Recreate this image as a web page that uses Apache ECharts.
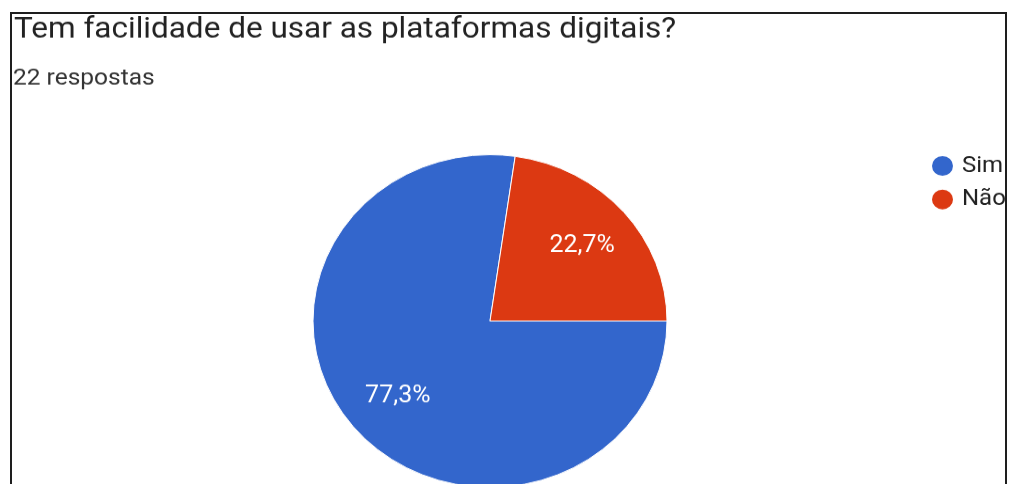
<!DOCTYPE html>
<html>
<head>
<meta charset="utf-8">
<script src="https://cdn.jsdelivr.net/npm/echarts@6/dist/echarts.min.js"></script>
<style>
  html, body { margin: 0; padding: 0; background: #fff; width: 1011px; height: 484px; overflow: hidden; position: relative; }
  #wrap { position: absolute; left: 0; top: 0; width: 1005px; height: 515px; transform: scaleY(0.94); transform-origin: 0 0; overflow: hidden; }
  #chart { width: 1005px; height: 515px; }
  #frame { position: absolute; left: 10px; top: 12px; width: 997px; height: 500px; border: 2px solid #1e1e1e; border-bottom: none; box-sizing: border-box; pointer-events: none; }
</style>
</head>
<body>
<div id="wrap"><div id="chart"></div></div>
<div id="frame"></div>
<script>
// Survey question and answer counts
const question = 'Tem facilidade de usar as plataformas digitais?';
const responsesLabel = '22 respostas';
const categories = ['Sim', 'Não'];
const counts = [17, 5];
const colors = ['#3366cc', '#dc3912'];

const total = counts.reduce((a, b) => a + b, 0);
const sliceData = categories.map((name, i) => ({ name: name, value: counts[i], itemStyle: { color: colors[i] } }));
const labelData = categories.map((name, i) => ({ name: name, value: counts[i] }));
const fmtPct = p => (p.value / total * 100).toFixed(1).replace('.', ',') + '%';

const chart = echarts.init(document.getElementById('chart'), null, { renderer: 'canvas' });
chart.setOption({
  animation: false,
  backgroundColor: '#fff',
  title: [
    { text: question, left: 14, top: 16.2, padding: 0, textStyle: { fontFamily: 'Roboto', fontSize: 31.5, fontWeight: 'normal', color: '#222', lineHeight: 31.5 } },
    { text: responsesLabel, left: 13, top: 71.5, padding: 0, textStyle: { fontFamily: 'Roboto', fontSize: 24.5, fontWeight: 'normal', color: '#333', lineHeight: 24.5 } }
  ],
  legend: {
    orient: 'vertical',
    left: 930,
    top: 164,
    padding: 0,
    icon: 'circle',
    itemWidth: 23,
    itemHeight: 23,
    itemGap: 10.7,
    data: categories,
    textStyle: { fontFamily: 'Roboto', fontSize: 24, lineHeight: 23, color: '#222', padding: [0, 0, 0, 3] }
  },
  series: [
    {
      type: 'pie',
      center: [490, 341.5],
      radius: 177,
      startAngle: 0,
      clockwise: true,
      silent: true,
      data: sliceData,
      itemStyle: { borderColor: '#fff', borderWidth: 1 },
      label: { show: false },
      labelLine: { show: false }
    },
    {
      // label-only ring: its mid radius sets where the percentages sit
      type: 'pie',
      center: [490, 341.5],
      radius: [0, 238],
      startAngle: 0,
      clockwise: true,
      silent: true,
      data: labelData,
      itemStyle: { color: 'rgba(0,0,0,0)', borderWidth: 0 },
      label: { show: true, position: 'inside', formatter: fmtPct, fontFamily: 'Roboto', fontSize: 25, color: '#fff', padding: [5, 0, 0, 0] },
      labelLine: { show: false },
      legendHoverLink: false
    }
  ]
});
</script>
</body>
</html>
